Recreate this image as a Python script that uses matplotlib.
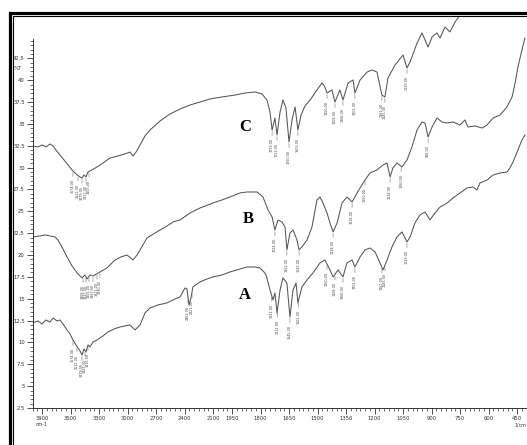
import numpy as np
import matplotlib
matplotlib.use("Agg")
import matplotlib.pyplot as plt
from matplotlib.patches import Rectangle
from matplotlib.ticker import FixedLocator, FixedFormatter

# ---------------- data (wavenumber cm-1, %T) ----------------
wn_A = [4000, 3942, 3900, 3858, 3816, 3784, 3742, 3711, 3679, 3637, 3605, 3574, 3542, 3521, 3500, 3479,
        3458, 3437, 3416, 3395, 3363, 3321, 3258, 3205, 3142, 3079, 3026, 2974, 2921, 2868, 2816, 2763,
        2679, 2584, 2500, 2447, 2395, 2374, 2353, 2332, 2311, 2237, 2163, 2100, 2005, 1961, 1908, 1871,
        1829, 1803, 1782, 1771, 1750, 1734, 1724, 1713, 1697, 1682, 1661, 1645, 1629, 1613, 1603, 1582,
        1555, 1524, 1487, 1461, 1434, 1418, 1392, 1366, 1345, 1318, 1303, 1276, 1250, 1224, 1197, 1171,
        1155, 1134, 1108, 1082, 1055, 1029, 1013, 987, 961, 934, 908, 882, 855, 818, 787, 750, 713, 682,
        661, 645, 608, 576, 539, 503, 487, 471, 445, 424, 408]
T_A = [12.23, 12.46, 12.11, 12.57, 12.34, 12.80, 12.46, 12.57, 12.11, 11.43, 10.97, 10.28, 9.71, 9.37,
       9.03, 8.57, 9.25, 8.91, 9.71, 9.48, 10.05, 10.28, 10.74, 11.20, 11.54, 11.77, 11.89, 12.00, 11.43,
       12.00, 13.37, 13.94, 14.29, 14.52, 14.97, 15.20, 16.23, 16.12, 14.29, 15.09, 16.35, 16.92, 17.26,
       17.49, 17.72, 18.06, 18.40, 18.63, 18.63, 18.52, 18.06, 17.72, 16.00, 14.86, 15.66, 13.37, 16.00,
       17.38, 16.80, 12.91, 16.00, 16.80, 14.52, 16.35, 17.15, 17.95, 19.09, 19.43, 18.29, 17.49, 18.29,
       17.49, 19.09, 19.43, 18.63, 19.78, 20.58, 20.80, 20.35, 19.09, 18.29, 19.43, 20.92, 22.06, 22.64,
       21.49, 22.06, 23.66, 24.58, 24.92, 24.01, 24.81, 25.49, 25.95, 26.52, 27.10, 27.67, 27.78, 27.44,
       28.24, 28.58, 29.15, 29.38, 29.50, 29.96, 30.64, 32.01, 33.16, 33.73]

wn_B = [4000, 3921, 3869, 3816, 3763, 3732, 3690, 3637, 3584, 3531, 3479, 3447, 3426, 3395, 3363, 3289,
        3216, 3132, 3068, 3005, 2942, 2900, 2868, 2795, 2710, 2658, 2584, 2521, 2447, 2342, 2237, 2100,
        2005, 1961, 1908, 1871, 1818, 1787, 1760, 1739, 1724, 1708, 1687, 1671, 1661, 1645, 1629, 1608,
        1597, 1582, 1555, 1529, 1503, 1487, 1471, 1450, 1434, 1418, 1397, 1371, 1345, 1318, 1292, 1260,
        1250, 1224, 1187, 1155, 1134, 1118, 1103, 1082, 1055, 1029, 1003, 976, 950, 934, 918, 897, 871,
        845, 818, 787, 750, 724, 708, 671, 634, 608, 576, 539, 503, 476, 460, 445, 424, 408]
T_B = [22.06, 22.18, 22.29, 22.18, 22.06, 21.72, 20.92, 19.78, 18.75, 17.95, 17.38, 17.72, 17.26, 17.72,
       17.60, 18.06, 18.52, 19.43, 19.78, 20.00, 19.43, 20.00, 20.58, 21.95, 22.52, 22.86, 23.32, 23.78,
       24.01, 24.81, 25.38, 25.95, 26.30, 26.64, 27.10, 27.21, 27.21, 26.64, 25.15, 24.35, 22.86, 24.01,
       23.78, 23.21, 20.58, 22.52, 22.86, 21.72, 20.58, 20.92, 21.72, 23.21, 26.30, 26.64, 25.95, 24.81,
       23.66, 22.64, 23.66, 25.95, 26.64, 26.07, 27.10, 28.24, 28.58, 29.38, 29.73, 30.30, 30.53, 28.93,
       29.96, 30.53, 30.07, 30.87, 32.36, 34.30, 35.22, 35.10, 33.50, 34.64, 35.67, 35.22, 35.10, 35.22,
       34.87, 35.45, 34.64, 34.76, 34.53, 34.87, 35.67, 36.02, 36.93, 38.08, 39.68, 41.51, 43.45, 44.82]

wn_C = [4000, 3942, 3900, 3858, 3816, 3784, 3753, 3711, 3668, 3626, 3584, 3542, 3500, 3479, 3458, 3437,
        3416, 3374, 3321, 3258, 3184, 3100, 3026, 2974, 2942, 2910, 2868, 2816, 2763, 2658, 2553, 2447,
        2342, 2237, 2132, 2005, 1934, 1882, 1829, 1792, 1766, 1750, 1739, 1724, 1713, 1697, 1682, 1666,
        1650, 1634, 1618, 1603, 1587, 1566, 1539, 1503, 1476, 1461, 1450, 1424, 1408, 1382, 1366, 1339,
        1313, 1303, 1276, 1239, 1213, 1187, 1161, 1145, 1129, 1092, 1050, 1029, 1013, 976, 950, 918, 897,
        871, 855, 829, 803, 776, 750, 697, 645]
T_C = [32.47, 32.36, 32.59, 32.36, 32.70, 32.47, 32.01, 31.44, 30.87, 30.30, 29.73, 29.27, 28.93, 28.81,
       29.15, 28.93, 29.50, 29.73, 30.07, 30.53, 31.10, 31.33, 31.56, 31.78, 31.33, 31.78, 32.59, 33.62,
       34.30, 35.33, 36.13, 36.70, 37.16, 37.50, 37.85, 38.08, 38.30, 38.53, 38.65, 38.42, 37.73, 36.36,
       34.30, 35.67, 33.73, 36.36, 37.73, 36.82, 32.93, 35.45, 36.93, 34.30, 35.99, 37.04, 37.73, 38.88,
       39.68, 39.22, 38.53, 38.88, 37.50, 38.88, 37.73, 39.68, 40.02, 38.53, 40.02, 40.93, 41.16, 40.93,
       38.30, 38.08, 40.25, 41.73, 42.88, 41.39, 42.08, 44.25, 45.40, 43.79, 44.94, 45.40, 44.82, 46.08,
       45.51, 46.65, 47.45, 48.0, 48.6]

peaks_A = [3574, 3532, 3479, 3447, 3416, 2363, 2321, 1741, 1712, 1645, 1601, 1450, 1408, 1366, 1303,
           1161, 1145, 1029]
peaks_B = [3468, 3437, 3405, 3363, 3321, 3290, 1724, 1661, 1597, 1418, 1318, 1250, 1118, 1060, 918]
peaks_C = [3574, 3521, 3479, 3437, 3405, 1739, 1713, 1650, 1603, 1450, 1408, 1366, 1303, 1161, 1145, 1029]

series_names = ["A", "B", "C"]
label_pos = {"A": (1882, 15.43), "B": (1866, 24.12), "C": (1882, 34.65)}

x_major = [3900, 3600, 3300, 3000, 2700, 2400, 2100, 1950, 1800, 1650, 1500, 1350, 1200, 1050, 900,
           750, 600, 450]
y_major = [2.5, 5, 7.5, 10, 12.5, 15, 17.5, 20, 22.5, 25, 27.5, 30, 32.5, 35, 37.5, 40, 42.5]
y_labels = ["2.5", "5", "7.5", "10", "12.5", "15", "17.5", "20", "22.5", "25", "27.5", "30", "32.5",
            "35", "37.5", "40", "42.5"]

# ---------------- figure ----------------
W, H = 527, 445
fig = plt.figure(figsize=(W / 100, H / 100), dpi=100)
fig.patch.set_facecolor("white")

ax = fig.add_axes([32.5 / W, 1 - 408 / H, 494 / W, 392 / H])


def fwd(w):
    w = np.asarray(w, dtype=float)
    return np.where(w >= 2000, w, 2 * w - 2000)


def inv(t):
    t = np.asarray(t, dtype=float)
    return np.where(t >= 2000, t, (t + 2000) / 2)


ax.set_xscale("function", functions=(fwd, inv))
ax.set_xlim(4000, 400)
ax.set_ylim(2.5, 47.34)

line_color = "#555555"
data = {"A": (wn_A, T_A, peaks_A), "B": (wn_B, T_B, peaks_B), "C": (wn_C, T_C, peaks_C)}
for name in series_names:
    wn, tt, pk = data[name]
    ax.plot(wn, tt, color=line_color, lw=0.75)
    wa = np.array(wn)[::-1]
    ta = np.array(tt)[::-1]
    for p in pk:
        yv = np.interp(p, wa, ta)
        ax.annotate(f"{p:.2f}", xy=(p, yv), xytext=(0, -6), textcoords="offset points",
                    rotation=90, ha="center", va="top", fontsize=2.4, color="#444444",
                    arrowprops=dict(arrowstyle="-", lw=0.35, color="#555555", shrinkA=0, shrinkB=1))
    lx, ly = label_pos[name]
    ax.text(lx, ly, name, fontsize=12, fontweight="bold", family="Liberation Serif",
            ha="center", va="center", color="black")

# spines / ticks
for s in ["top", "right"]:
    ax.spines[s].set_visible(False)
for s in ["left", "bottom"]:
    ax.spines[s].set_color("#333333")
    ax.spines[s].set_linewidth(0.7)
ax.spines["left"].set_bounds(2.5, 44.7)

ax.xaxis.set_major_locator(FixedLocator(x_major))
ax.xaxis.set_major_formatter(FixedFormatter([str(v) for v in x_major]))
x_minor = list(np.arange(4000, 2000, -50)) + list(np.arange(2000, 399, -25))
ax.xaxis.set_minor_locator(FixedLocator(x_minor))

ax.yaxis.set_major_locator(FixedLocator(y_major))
ax.yaxis.set_major_formatter(FixedFormatter(y_labels))
ax.yaxis.set_minor_locator(FixedLocator(list(np.arange(2.5, 44.6, 0.5))))

ax.tick_params(axis="both", which="major", direction="out", length=4, width=0.6, color="#333333",
               labelsize=3.8, labelcolor="#333333", pad=1.5)
ax.tick_params(axis="both", which="minor", direction="out", length=2.2, width=0.5, color="#333333")

ax.text(-0.022, 41.28, "%T", transform=ax.get_yaxis_transform(), fontsize=3.8, color="#333333",
        ha="right", va="center")
ax.text(42 / W, 1 - 425 / H, "cm-1", transform=fig.transFigure, fontsize=3.4, color="#333333",
        ha="center", va="center")
ax.text(520 / W, 1 - 425 / H, "1/cm", transform=fig.transFigure, fontsize=3.4, color="#333333",
        ha="center", va="center")

# double frame (only left and top edges fall inside the picture)
outer = Rectangle((9.8 / W, -0.2), 1.2, 1.2 - 12.8 / H, transform=fig.transFigure, fill=False,
                  edgecolor="black", lw=2.3, joinstyle="miter", zorder=10)
inner = Rectangle((12.8 / W, -0.2), 1.2, 1.2 - 15.5 / H, transform=fig.transFigure, fill=False,
                  edgecolor="black", lw=0.8, joinstyle="miter", zorder=10)
fig.add_artist(outer)
fig.add_artist(inner)

fig.savefig("out.png", dpi=100, facecolor="white")
